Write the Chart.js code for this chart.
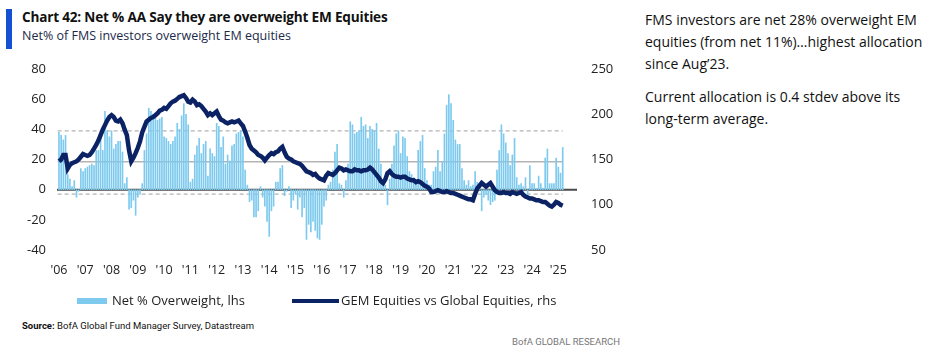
<!DOCTYPE html>
<html>
<head>
<meta charset="utf-8">
<script src="https://cdn.jsdelivr.net/npm/chart.js@4.4.1/dist/chart.umd.min.js"></script>
<style>
  body { margin: 0; width: 940px; height: 364px; background: #fff; position: relative; overflow: hidden; font-family: "Open Sans", sans-serif; color: #222; }
  #bar { position: absolute; left: 6px; top: 9px; width: 6px; height: 40px; background: #1450d2; }
  #title { position: absolute; left: 22px; top: 7px; font: bold 13.6px "Open Sans", sans-serif; color: #111; white-space: nowrap; letter-spacing: -0.2px; }
  #subtitle { position: absolute; left: 22px; top: 27px; font: 12.5px "Open Sans", sans-serif; color: #1c2a4a; white-space: nowrap; }
  #wrap { position: absolute; left: 0; top: 0; width: 640px; height: 300px; }
  #legend { position: absolute; top: 291px; left: 0; width: 640px; height: 20px; font: 13px "Open Sans", sans-serif; color: #222; }
  .lg { position: absolute; top: 0; white-space: nowrap; line-height: 18px; }
  .sw1 { position: absolute; left: 77px; top: 7px; width: 30px; height: 6px; background: #7dcaee; }
  .sw2 { position: absolute; left: 292px; top: 8px; width: 47px; height: 4px; background: #0b2265; }
  #source { position: absolute; left: 22px; top: 320px; font: 9.5px Roboto, sans-serif; color: #111; white-space: nowrap; }
  #brand { position: absolute; right: 320px; top: 336px; font: 9.5px Roboto, sans-serif; color: #777; white-space: nowrap; }
  #side { position: absolute; left: 645px; top: 9px; width: 288px; font: 14px "Open Sans", sans-serif; line-height: 22px; color: #111; }
  #side p { margin: 0 0 11px 0; }
</style>
</head>
<body>
<div id="bar"></div>
<div id="title">Chart 42: Net % AA Say they are overweight EM Equities</div>
<div id="subtitle">Net% of FMS investors overweight EM equities</div>
<div id="wrap"><canvas id="chart" width="640" height="300"></canvas></div>
<div id="legend">
  <div class="sw1"></div><div class="lg" style="left:112px">Net % Overweight, lhs</div>
  <div class="sw2"></div><div class="lg" style="left:341px">GEM Equities vs Global Equities, rhs</div>
</div>
<div id="source"><b>Source:</b> BofA Global Fund Manager Survey, Datastream</div>
<div id="brand">BofA GLOBAL RESEARCH</div>
<div id="side">
  <p>FMS investors are net 28% overweight EM equities (from net 11%)…highest allocation since Aug’23.</p>
  <p>Current allocation is 0.4 stdev above its long-term average.</p>
</div>
<script>
// monthly, Jan 2006 .. Mar 2025
const startYear = 2006;
const tickYears = [2006, 2007, 2008, 2009, 2010, 2011, 2012, 2013, 2014, 2015, 2016, 2017, 2018, 2019, 2020, 2021, 2022, 2023, 2024, 2025];
const yearLabels = ["'06", "'07", "'08", "'09", "'10", "'11", "'12", "'13", "'14", "'15", "'16", "'17", "'18", "'19", "'20", "'21", "'22", "'23", "'24", "'25"];

// Net % overweight EM equities (lhs)
const netOverweight = [
  38, 36, 33, 36, 10, 7, 2, 6, -5, -1, 14, 12,
  14, 15, 16, 17, 16, 26, 26, 34, 26, 52, 39, 35,
  39, 27, 30, 32, 32, 25, 4, 8, -13, -12, -7, -17,
  -5, -3, 4, 26, 37, 54, 52, 50, 48, 46, 47, 48,
  35, 34, 32, 30, 32, 35, 44, 40, 49, 57, 50, 43,
  5, 7, 23, 29, 34, 24, 30, 32, 9, 27, 24, 22,
  44, 42, 28, 35, 17, 23, 19, 29, 30, 37, 38, 39,
  35, 13, 3, -8, -7, -18, -18, -14, 2, -5, -11, -21,
  -31, -14, -11, 5, 5, 14, 16, -4, -1, 2, -12, -7,
  -3, -13, -5, -18, -12, -33, -23, -28, -21, -27, -32, -33,
  -23, -11, -7, 3, 5, 13, 25, 30, 4, 3, -5, 6,
  17, 45, 43, 37, 38, 39, 48, 42, 43, 34, 42, 40,
  39, 44, 27, 17, 5, 3, -10, 7, 17, 29, 37, 39,
  24, 35, 34, 22, 12, 10, 8, 6, 26, 32, 36, 14,
  6, 3, 3, 12, 15, 26, 12, 18, 37, 56, 63, 57,
  46, 33, 30, 30, 14, 6, 3, 6, 2, 3, 12, 5,
  2, -14, -5, -3, -7, -10, -8, -7, 13, 26, 43, 37,
  31, 24, 16, 23, 34, 8, 3, 4, 2, 8, -4, 16,
  4, 4, 1, 9, 4, 1, 21, 27, 4, 4, 4, 21,
  15, 11, 28
];

// GEM equities vs global equities (rhs)
const gemVsGlobal = [
  148, 150, 155, 155, 140, 144, 146, 147, 148, 150, 153, 156,
  155, 154, 155, 158, 162, 166, 171, 177, 183, 188, 193, 197,
  199, 197, 193, 192, 194, 190, 183, 177, 160, 148, 152, 157,
  163, 170, 180, 186, 192, 194, 196, 197, 199, 201, 204, 205,
  207, 206, 209, 212, 214, 215, 217, 219, 220, 221, 218, 214,
  213, 216, 214, 210, 211, 209, 206, 203, 199, 201, 199, 201,
  203, 198, 194, 193, 191, 190, 191, 192, 191, 192, 193, 190,
  187, 181, 174, 166, 162, 160, 158, 155, 154, 152, 149, 152,
  155, 157, 156, 158, 159, 162, 164, 158, 153, 151, 150, 148,
  147, 146, 145, 143, 140, 137, 136, 135, 133, 134, 131, 129,
  128, 127, 132, 135, 134, 133, 135, 138, 141, 140, 138, 139,
  138, 137, 137, 139, 138, 138, 137, 138, 138, 139, 141, 139,
  136, 133, 130, 126, 124, 128, 135, 137, 134, 132, 131, 131,
  130, 131, 131, 129, 128, 127, 127, 125, 126, 125, 123, 121,
  120, 118, 114, 114, 115, 116, 115, 114, 114, 115, 114, 113,
  113, 112, 111, 110, 109, 108, 107, 106, 106, 105, 112, 118,
  121, 124, 122, 120, 122, 124, 120, 116, 114, 113, 113, 114,
  113, 113, 112, 114, 113, 112, 113, 114, 111, 109, 108, 107,
  107, 106, 105, 105, 104, 103, 103, 101, 99, 98, 100, 103,
  102, 100, 99
];

// long-term average and +/- 1 stdev of net % overweight
const avgLevel = 18.5;
const upperBand = 39;
const lowerBand = -3;

const xMin = 2005.925, xMax = 2025.71;
const toX = i => startYear + i / 12;
const lastX = toX(netOverweight.length - 1);

function flat(y, x0, x1) {
  return [{ x: x0, y: y }, { x: x1, y: y }];
}

const ctx = document.getElementById("chart").getContext("2d");
new Chart(ctx, {
  data: {
    datasets: [
      {
        type: "line", yAxisID: "yR", order: 0,
        data: gemVsGlobal.map((v, i) => ({ x: toX(i), y: v })),
        borderColor: "#0b2265", borderWidth: 4.5, pointRadius: 0, tension: 0
      },
      {
        type: "bar", yAxisID: "yL", order: 1,
        data: netOverweight.map((v, i) => ({ x: toX(i), y: v })),
        backgroundColor: "#7dcaee", barThickness: 1, borderWidth: 0
      },
      {
        type: "line", yAxisID: "yL", order: 2,
        data: flat(0, xMin, xMax),
        borderColor: "#4a4a4a", borderWidth: 2, pointRadius: 0
      },
      {
        type: "line", yAxisID: "yL", order: 3,
        data: flat(avgLevel, 2005.95, lastX),
        borderColor: "#b4b4b4", borderWidth: 1.5, pointRadius: 0
      },
      {
        type: "line", yAxisID: "yL", order: 3,
        data: flat(upperBand, 2005.95, lastX),
        borderColor: "#b4b4b4", borderWidth: 1.2, borderDash: [4, 3], pointRadius: 0
      },
      {
        type: "line", yAxisID: "yL", order: 3,
        data: flat(lowerBand, 2005.95, lastX),
        borderColor: "#b4b4b4", borderWidth: 1.2, borderDash: [4, 3], pointRadius: 0
      }
    ]
  },
  options: {
    responsive: false,
    animation: false,
    events: [],
    layout: { padding: { top: 69, left: 0, right: 0, bottom: 20 } },
    plugins: { legend: { display: false }, tooltip: { enabled: false } },
    scales: {
      x: {
        type: "linear", min: xMin, max: xMax, offset: false,
        grid: { display: false, drawTicks: false },
        border: { display: false },
        afterBuildTicks: s => { s.ticks = tickYears.map(v => ({ value: v })); },
        afterFit: s => { s.height = 30; },
        ticks: {
          padding: 13, color: "#222", maxRotation: 0, autoSkip: false,
          font: { family: "Open Sans", size: 12.5 },
          callback: v => yearLabels[tickYears.indexOf(v)]
        }
      },
      yL: {
        position: "left", min: -40, max: 80,
        grid: { display: false, drawTicks: false },
        border: { display: false },
        afterFit: s => { s.width = 57; },
        ticks: { stepSize: 20, padding: 11, color: "#222", font: { family: "Open Sans", size: 13 } }
      },
      yR: {
        position: "right", min: 50, max: 250,
        grid: { display: false, drawTicks: false },
        border: { display: false },
        afterFit: s => { s.width = 63; },
        ticks: { stepSize: 50, padding: 14, color: "#222", font: { family: "Open Sans", size: 13 } }
      }
    }
  }
});
</script>
</body>
</html>
